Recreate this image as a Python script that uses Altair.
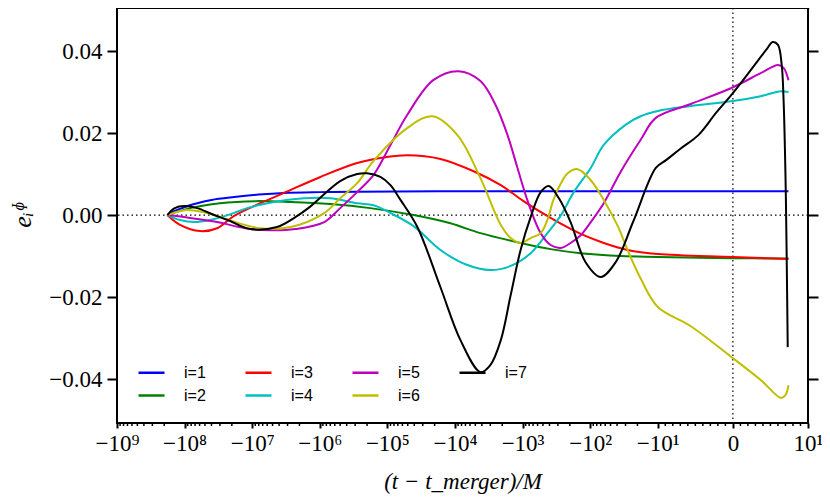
import math
import altair as alt
import pandas as pd

# ---------------- data ----------------
series_names = ["i=1", "i=2", "i=3", "i=4", "i=5", "i=6", "i=7"]
series_colors = ["#0000ff", "#008000", "#ff0000", "#00bfbf", "#bf00bf", "#bfbf00", "#000000"]

i1_t = [-1.8e8, -1.5e8, -1.17e8, -9e7, -6.5e7, -4e7, -1.85e7, -8e6, -3.4e6, -1e6, -2.8e5, -1e4, -100, 0, 7.4]
i1_v = [0, 0.0008, 0.0015, 0.0022, 0.0029, 0.0037, 0.0044, 0.0050, 0.0054, 0.0056, 0.0057, 0.0058, 0.0058, 0.0058, 0.0058]

i2_t = [-1.8e8, -8.3e7, -3.0e7, -9.0e6, -2.7e6, -7.0e5, -1.8e5, -4.1e4, -1.17e4, -4.2e3, -1.07e3, -385, -138, -35, -10, 0, 7.4]
i2_v = [0, 0.0017, 0.0029, 0.0034, 0.0032, 0.0027, 0.0017, 0, -0.0020, -0.0044, -0.0068, -0.0083, -0.0093, -0.0100, -0.0102, -0.0105, -0.0106]

i3_t = [-1.8e8, -1.17e8, -5.9e7, -3.3e7, -1.85e7, -7.6e6, -3.4e6, -9.8e5, -2.8e5, -1.07e5, -5.1e4, -1.64e4, -5.3e3, -2.1e3, -970, -385, -138, -63, -28, -10, 0, 7.4]
i3_v = [0, -0.0024, -0.0039, -0.0032, -0.0002, 0.0029, 0.0054, 0.0093, 0.0127, 0.0141, 0.0146, 0.0137, 0.0107, 0.0073, 0.0034, -0.0007, -0.0046, -0.0068, -0.0085, -0.0095, -0.0102, -0.0107]

i4_t = [-1.8e8, -1.17e8, -7.2e7, -4.2e7, -2.3e7, -1.19e7, -6e6, -1.7e6, -7e5, -2.8e5, -1.6e5, -9e4, -4.1e4, -1.64e4, -7e3, -3e3, -1.5e3, -760, -430, -270, -175, -98, -63, -30, -18, -10, -5.6, 0, 3.7, 6.4, 7.4]
i4_v = [0, -0.0012, -0.0017, -0.0012, 0, 0.0017, 0.0029, 0.0041, 0.0041, 0.0029, 0.0024, 0.0005, -0.0027, -0.0085, -0.0120, -0.0134, -0.0124, -0.0093, -0.0044, 0, 0.0056, 0.0115, 0.0171, 0.0220, 0.0241, 0.0254, 0.0266, 0.0278, 0.0290, 0.0302, 0.0300]

i5_t = [-1.8e8, -8.3e7, -3.3e7, -1.27e7, -5.4e6, -2.3e6, -8.6e5, -5e5, -2.8e5, -1.6e5, -9e4, -5.1e4, -2.1e4, -8.9e3, -4.2e3, -2.5e3, -1.67e3, -1.19e3, -840, -540, -385, -270, -195, -138, -98, -63, -35, -18, -10.7, -5.6, -0.2, 3.7, 6.0, 6.75, 7.4]
i5_v = [0, -0.0007, -0.0017, -0.0032, -0.0037, -0.0034, -0.0017, 0.0017, 0.0056, 0.0098, 0.0171, 0.0244, 0.0329, 0.0351, 0.0327, 0.0268, 0.0195, 0.0115, 0.0034, -0.0044, -0.0073, -0.0080, -0.0068, -0.0049, -0.0017, 0.0029, 0.0107, 0.0183, 0.0237, 0.0271, 0.0310, 0.0346, 0.0366, 0.0359, 0.0329]

i6_t = [-1.8e8, -1.0e8, -4.6e7, -1.8e7, -7.6e6, -2.7e6, -8.6e5, -5.0e5, -2.8e5, -1.6e5, -5.1e4, -2.15e4, -9.2e3, -4.2e3, -2.1e3, -1.5e3, -1.07e3, -760, -540, -430, -350, -270, -215, -153, -98, -63, -39, -28, -18, -10, -5.6, -0.2, 3.7, 6.4, 7.0, 7.4]
i6_v = [0, 0.0012, 0.0005, -0.0017, -0.0032, -0.0029, 0.0005, 0.0041, 0.0078, 0.0132, 0.0212, 0.0241, 0.0195, 0.0090, -0.0024, -0.0056, -0.0068, -0.0056, -0.0044, -0.0012, 0.0037, 0.0078, 0.0102, 0.0112, 0.0085, 0.0037, -0.0027, -0.0085, -0.0154, -0.0224, -0.0271, -0.0346, -0.0402, -0.0446, -0.0439, -0.0415]

i7_t = [-1.8e8, -1.4e8, -1.0e8, -6.5e7, -3.9e7, -2.3e7, -1.07e7, -4.3e6, -2.3e6, -1.4e6, -5.0e5, -2.8e5, -2.0e5, -1.27e5, -9.0e4, -6.4e4, -3.6e4, -1.64e4, -8.3e3, -4.2e3, -3.0e3, -2.1e3, -1.5e3, -1.07e3, -760, -540, -410, -290, -195, -117, -70, -42, -23, -10.7, -8.9, -6.9, -4.6, -2.25, -0.2, 2.4, 4.4, 5.3, 6.0, 6.5, 6.75, 7.0, 7.15, 7.3]
i7_v = [0, 0.0017, 0.0022, 0.0017, 0.0002, -0.0012, -0.0034, -0.0029, -0.0005, 0.0020, 0.0083, 0.0100, 0.0102, 0.0093, 0.0073, 0.0037, -0.0029, -0.0176, -0.0305, -0.0383, -0.0366, -0.0305, -0.0195, -0.0085, -0.0005, 0.0056, 0.0071, 0.0041, -0.0017, -0.0115, -0.0151, -0.0115, -0.0015, 0.0115, 0.0134, 0.0163, 0.0195, 0.0249, 0.0293, 0.0354, 0.0402, 0.0422, 0.0415, 0.0366, 0.0280, 0.0098, -0.0085, -0.0322]

x_tick_values = [-1e9, -1e8, -1e7, -1e6, -1e5, -1e4, -1e3, -1e2, -1e1, 0, 1e1]
x_tick_labels = ["−10⁹", "−10⁸", "−10⁷", "−10⁶", "−10⁵", "−10⁴", "−10³", "−10²", "−10¹", "0", "10¹"]
y_tick_values = [-0.04, -0.02, 0.0, 0.02, 0.04]
legend_order = ["i=1", "i=3", "i=5", "i=7", "i=2", "i=4", "i=6"]

# minor ticks of a symlog axis (2..9 x 10^k on the log side, 1..9 in the linear part)
minor_t = [-m * 10 ** k for k in range(1, 9) for m in range(2, 10)] + [float(m) for m in range(-9, 10) if m != 0]

# ---------------- symlog (matplotlib style, linthresh=10) ----------------
LINTHRESH = 10.0
LINSCALE = 1.0 / (1.0 - 1.0 / 10.0)


def symlog(t):
    if abs(t) <= LINTHRESH:
        return t / LINTHRESH * LINSCALE
    return math.copysign(LINSCALE + math.log10(abs(t) / LINTHRESH), t)


EXPR = (f"abs(datum.t) <= {LINTHRESH} ? datum.t / {LINTHRESH} * {LINSCALE} : "
        f"(datum.t < 0 ? -1 : 1) * ({LINSCALE} + log(abs(datum.t) / {LINTHRESH}) / LN10)")

x_major_pos = [symlog(v) for v in x_tick_values]
label_expr = "".join(
    f"abs(datum.value - ({p:.6f})) < 0.001 ? '{lab}' : " for p, lab in zip(x_major_pos, x_tick_labels)
) + "''"

x_domain = [symlog(-1e9), symlog(10)]
y_domain = [-0.0507, 0.0505]

SERIF = "Liberation Serif, DejaVu Serif, serif"
SANS = "Liberation Sans, DejaVu Sans, sans-serif"

# ---------------- build table ----------------
all_t = [i1_t, i2_t, i3_t, i4_t, i5_t, i6_t, i7_t]
all_v = [i1_v, i2_v, i3_v, i4_v, i5_v, i6_v, i7_v]
rows = []
for name, ts, vs in zip(series_names, all_t, all_v):
    for k, (t, v) in enumerate(zip(ts, vs)):
        rows.append({"series": name, "t": t, "v": v, "k": k})
df = pd.DataFrame(rows)

color_map = dict(zip(series_names, series_colors))

x_scale = alt.Scale(domain=x_domain, nice=False, zero=False)
y_scale = alt.Scale(domain=y_domain, nice=False, zero=False)

bottom_axis = alt.Axis(
    orient="bottom", values=x_major_pos, labelExpr=label_expr, tickSize=5, tickWidth=2,
    tickColor="black", domain=False, grid=False, labelFont=SERIF, labelFontSize=23,
    labelColor="black", labelPadding=4, labelFlush=False, labelOverlap=False,
    title="(t − t_merger)/M", titleFont=SERIF, titleFontStyle="italic", titleFontSize=23,
    titleFontWeight="normal", titleColor="black", titlePadding=15,
)
top_axis = alt.Axis(orient="top", values=x_major_pos, labels=False, tickSize=9, tickWidth=2,
                    tickColor="black", domain=False, grid=False, title=None)
left_axis = alt.Axis(
    orient="left", values=y_tick_values, format=".2f", tickSize=10, tickWidth=2, tickColor="black",
    domain=False, grid=False, labelFont=SERIF, labelFontSize=23, labelColor="black", labelPadding=5,
    title="eᵢᶲ", titleFont=SERIF, titleFontStyle="italic", titleFontSize=26, titleFontWeight="normal",
    titleColor="black", titlePadding=13,
)
right_axis = alt.Axis(orient="right", values=y_tick_values, labels=False, tickSize=10, tickWidth=2,
                      tickColor="black", domain=False, grid=False, title=None)

zero_h = alt.Chart(pd.DataFrame({"v": [0.0]})).mark_rule(
    color="black", strokeWidth=1.2, strokeDash=[1.5, 3]
).encode(y=alt.Y("v:Q", scale=y_scale, axis=right_axis))

zero_v = alt.Chart(pd.DataFrame({"t": [0.0]})).transform_calculate(xs=EXPR).mark_rule(
    color="black", strokeWidth=1.2, strokeDash=[1.5, 3]
).encode(x=alt.X("xs:Q", scale=x_scale, axis=None))

lines = alt.Chart(df).transform_calculate(xs=EXPR).mark_line(
    strokeWidth=2, interpolate="catmull-rom"
).encode(
    x=alt.X("xs:Q", scale=x_scale, axis=bottom_axis),
    y=alt.Y("v:Q", scale=y_scale, axis=left_axis),
    color=alt.Color(
        "series:N",
        scale=alt.Scale(domain=legend_order, range=[color_map[s] for s in legend_order]),
        legend=alt.Legend(
            title=None, orient="none", legendX=20, legendY=350, columns=4, direction="horizontal",
            symbolType="stroke", symbolSize=676, symbolStrokeWidth=2.5, labelFont=SANS,
            labelFontSize=16, labelColor="black", labelOffset=18, columnPadding=34, rowPadding=0,
            padding=0,
        ),
    ),
    order=alt.Order("k:Q"),
)

minor_df = pd.DataFrame({"t": minor_t})
minor_bottom = alt.Chart(minor_df).transform_calculate(xs=EXPR).mark_rule(
    color="black", strokeWidth=1.5
).encode(x=alt.X("xs:Q", scale=x_scale, axis=None), y=alt.value(415), y2=alt.value(418))

minor_top = alt.Chart(minor_df).transform_calculate(xs=EXPR).mark_rule(
    color="black", strokeWidth=1.5
).encode(x=alt.X("xs:Q", scale=x_scale, axis=top_axis), y=alt.value(0), y2=alt.value(-5))

chart = alt.layer(zero_h, zero_v, lines, minor_bottom, minor_top).resolve_axis(
    x="independent", y="independent"
).properties(
    width=691, height=415,
    autosize=alt.AutoSizeParams(type="none"),
    padding={"left": 109, "top": 0, "right": 14, "bottom": 71},
    background="white",
).configure_view(stroke="black", strokeWidth=2)

chart.save("out.html", embed_options={"renderer": "svg", "actions": False})
